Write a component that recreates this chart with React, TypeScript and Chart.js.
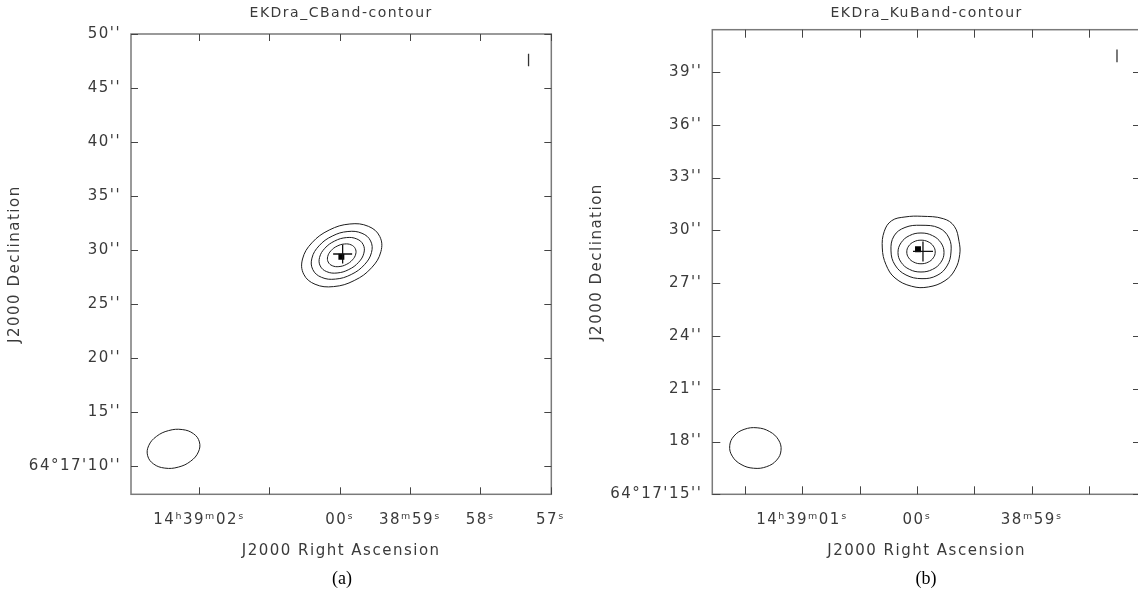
import React, { useEffect, useRef } from "react";
import { Chart, registerables } from "chart.js";

Chart.register(...registerables);

// ---------- data: panel (a) C band ----------
// x values: RA seconds relative to 14h39m00s ; y values: Dec arcsec relative to 64°17'00''
const A_TITLE = "EKDra_CBand-contour";
const A_X_TICKS = [2, 1, 0, -1, -2, -3];
const A_X_LABELS = ["14ʰ39ᵐ02ˢ", "", "00ˢ", "38ᵐ59ˢ", "58ˢ", "57ˢ"];
const A_Y_TICKS = [10, 15, 20, 25, 30, 35, 40, 45, 50];
const A_Y_LABELS = ["64°17'10''", "15''", "20''", "25''", "30''", "35''", "40''", "45''", "50''"];
const A_X_RANGE = [-3.01, 2.97];
const A_Y_RANGE = [7.38, 50.0];
const A_SOURCE = [-0.028, 29.51];
// contour vertices, arcsec offsets (east, north) from the source position
const A_CONTOUR_1 = [[3.52, -1.747], [3.628, -0.344], [2.765, 1.151], [1.16, 2.338], [-0.755, 2.899], [-2.468, 2.682], [-3.52, 1.747], [-3.628, 0.344], [-2.765, -1.151], [-1.16, -2.338], [0.755, -2.899], [2.468, -2.682]];
const A_CONTOUR_2 = [[2.675, -1.328], [2.757, -0.261], [2.101, 0.875], [0.882, 1.777], [-0.574, 2.203], [-1.876, 2.038], [-2.675, 1.328], [-2.757, 0.261], [-2.101, -0.875], [-0.882, -1.777], [0.574, -2.203], [1.876, -2.038]];
const A_CONTOUR_3 = [[1.989, -0.987], [2.05, -0.194], [1.562, 0.65], [0.655, 1.321], [-0.427, 1.638], [-1.394, 1.515], [-1.989, 0.987], [-2.05, 0.194], [-1.562, -0.65], [-0.655, -1.321], [0.427, -1.638], [1.394, -1.515]];
const A_CONTOUR_4 = [[1.254, -0.622], [1.297, -0.113], [0.992, 0.426], [0.422, 0.851], [-0.262, 1.048], [-0.875, 0.965], [-1.254, 0.622], [-1.297, 0.113], [-0.992, -0.426], [-0.422, -0.851], [0.262, -1.048], [0.875, -0.965]];
const A_BEAM_CENTER = [2.365, 11.59];
const A_BEAM = [[2.395, -0.642], [2.301, 0.289], [1.59, 1.143], [0.453, 1.69], [-0.806, 1.785], [-1.847, 1.401], [-2.395, 0.642], [-2.301, -0.289], [-1.59, -1.143], [-0.453, -1.69], [0.806, -1.785], [1.847, -1.401]];
const A_CROSS = [-0.041, 29.63];
const A_PEAK = [-0.023, 29.37];
const A_MARK = [[-2.686, 47.01], [-2.686, 48.16]];

// ---------- data: panel (b) Ku band ----------
const B_TITLE = "EKDra_KuBand-contour";
const B_X_TICKS = [1.5, 1, 0.5, 0, -0.5, -1, -1.5];
const B_X_LABELS = ["", "14ʰ39ᵐ01ˢ", "", "00ˢ", "", "38ᵐ59ˢ", ""];
const B_Y_TICKS = [15, 18, 21, 24, 27, 30, 33, 36, 39];
const B_Y_LABELS = ["64°17'15''", "18''", "21''", "24''", "27''", "30''", "33''", "36''", "39''"];
const B_X_RANGE = [-1.95, 1.782];
const B_Y_RANGE = [15.0, 41.4];
const B_SOURCE = [-0.0348, 28.77];
const B_CONTOUR_1 = [[-0.04, 2.028], [-1.263, 1.892], [-1.887, 1.46], [-2.153, 0.608], [-2.193, -0.153], [-1.926, -1.006], [-1.36, -1.631], [-0.414, -1.989], [0.527, -1.949], [1.473, -1.477], [1.983, -0.722], [2.193, 0.227], [2.079, 1.176], [1.66, 1.778], [0.907, 1.989]];
const B_CONTOUR_2 = [[0, 1.517], [-1.02, 1.364], [-1.586, 0.795], [-1.7, 0], [-1.473, -0.795], [-0.907, -1.335], [-0.057, -1.517], [0.85, -1.307], [1.473, -0.739], [1.7, 0.057], [1.53, 0.909], [0.907, 1.392]];
const B_CONTOUR_3 = [[1.303, -0.03], [1.128, 0.524], [0.652, 0.93], [0, 1.078], [-0.652, 0.93], [-1.128, 0.524], [-1.303, -0.03], [-1.128, -0.584], [-0.652, -0.99], [0, -1.138], [0.652, -0.99], [1.128, -0.584]];
const B_CONTOUR_4 = [[0.805, 0], [0.697, 0.335], [0.403, 0.58], [0, 0.67], [-0.403, 0.58], [-0.697, 0.335], [-0.805, 0], [-0.697, -0.335], [-0.403, -0.58], [0, -0.67], [0.403, -0.58], [0.697, -0.335]];
const B_BEAM_CENTER = [1.407, 17.63];
const B_BEAM = [[1.454, 0.127], [1.209, 0.684], [0.64, 1.059], [-0.101, 1.149], [-0.814, 0.931], [-1.309, 0.464], [-1.454, -0.127], [-1.209, -0.684], [-0.64, -1.059], [0.101, -1.149], [0.814, -0.931], [1.309, -0.464]];
const B_CROSS = [-0.052, 28.8];
const B_PEAK = [-0.0087, 28.92];
const B_MARK = [[-1.741, 39.55], [-1.741, 40.28]];

const X_TITLE = "J2000 Right Ascension";
const Y_TITLE = "J2000 Declination";

// arcsec of sky per second of RA at this declination (unit conversion)
const ARCSEC_PER_SEC = 15 * Math.cos(((64 + 17.5 / 60) * Math.PI) / 180);

// ---------- styles ----------
const FONT = '"DejaVu Sans", sans-serif';
const TEXT = "#3a3a3a";
const LINE = "#1c1c1c";
const FRAME = "#7a7a7a";
const TICK = "#444444";
const CANVAS_W = 580;
const CANVAS_H = 598;

type Pt = number[];
type Panel = {
  title: string;
  xTicks: number[];
  xLabels: string[];
  yTicks: number[];
  yLabels: string[];
  xRange: number[];
  yRange: number[];
  source: Pt;
  contours: Pt[][];
  beamCenter: Pt;
  beam: Pt[];
  cross: Pt;
  peak: Pt;
  mark: Pt[];
  crossR: number;
  box: { left: number; right: number; bottom: number; titleTop: number; titleBottom: number; yTitlePad: number; tickLen: number };
};

const PANEL_A: Panel = {
  title: A_TITLE, xTicks: A_X_TICKS, xLabels: A_X_LABELS, yTicks: A_Y_TICKS, yLabels: A_Y_LABELS,
  xRange: A_X_RANGE, yRange: A_Y_RANGE, source: A_SOURCE,
  contours: [A_CONTOUR_1, A_CONTOUR_2, A_CONTOUR_3, A_CONTOUR_4],
  beamCenter: A_BEAM_CENTER, beam: A_BEAM, cross: A_CROSS, peak: A_PEAK, mark: A_MARK, crossR: 9.5,
  box: { left: 131, right: 553.3, bottom: 494.3, titleTop: 4.5, titleBottom: 12.7, yTitlePad: 6, tickLen: 7 },
};
const PANEL_B: Panel = {
  title: B_TITLE, xTicks: B_X_TICKS, xLabels: B_X_LABELS, yTicks: B_Y_TICKS, yLabels: B_Y_LABELS,
  xRange: B_X_RANGE, yRange: B_Y_RANGE, source: B_SOURCE,
  contours: [B_CONTOUR_1, B_CONTOUR_2, B_CONTOUR_3, B_CONTOUR_4],
  beamCenter: B_BEAM_CENTER, beam: B_BEAM, cross: B_CROSS, peak: B_PEAK, mark: B_MARK, crossR: 10,
  box: { left: 132.3, right: 561, bottom: 494.3, titleTop: 5, titleBottom: 7.9, yTitlePad: 8, tickLen: 8 },
};

function loopDataset(center: Pt, pts: Pt[]) {
  const xy = pts.map(([dx, dy]) => ({ x: center[0] + dx / ARCSEC_PER_SEC, y: center[1] + dy }));
  const n = xy.length;
  // wrap so the spline is smooth all round; the two outer segments are hidden
  const data = [xy[n - 1], ...xy, xy[0], xy[1]];
  const last = data.length - 1;
  return {
    data,
    showLine: true,
    tension: 0.4,
    pointRadius: 0,
    borderColor: LINE,
    borderWidth: 1,
    fill: false,
    segment: {
      borderColor: (c: any) => (c.p0DataIndex === 0 || c.p1DataIndex === last ? "rgba(0,0,0,0)" : undefined),
    },
  };
}

const frameTicks = {
  id: "frameTicks",
  afterDatasetsDraw(chart: any, _args: any, opts: any) {
    const { ctx, chartArea } = chart;
    const { left, right, top, bottom } = chartArea;
    const len = opts.len || 7;
    const sx = chart.scales.x;
    const sy = chart.scales.y;
    ctx.save();
    ctx.strokeStyle = FRAME;
    ctx.lineWidth = 1.5;
    ctx.strokeRect(left, top, right - left, bottom - top);
    ctx.strokeStyle = TICK;
    ctx.lineWidth = 1;
    ctx.beginPath();
    sx.ticks.forEach((t: any) => {
      const px = Math.round(sx.getPixelForValue(t.value)) + 0.5;
      ctx.moveTo(px, bottom);
      ctx.lineTo(px, bottom - len);
      ctx.moveTo(px, top);
      ctx.lineTo(px, top + len);
    });
    sy.ticks.forEach((t: any) => {
      const py = Math.round(sy.getPixelForValue(t.value)) + 0.5;
      ctx.moveTo(left, py);
      ctx.lineTo(left + len, py);
      ctx.moveTo(right, py);
      ctx.lineTo(right - len, py);
    });
    ctx.stroke();
    ctx.restore();
  },
};

const spacing = {
  id: "spacing",
  beforeDraw(chart: any) {
    (chart.ctx as any).letterSpacing = "1.5px";
  },
};

function makeChart(canvas: HTMLCanvasElement, p: Panel) {
  const datasets: any[] = [];
  p.contours.forEach((c) => datasets.push(loopDataset(p.source, c)));
  datasets.push(loopDataset(p.beamCenter, p.beam));
  datasets.push({
    data: [{ x: p.cross[0], y: p.cross[1] }],
    pointStyle: "cross",
    pointRadius: p.crossR,
    borderColor: "#111",
    borderWidth: 1.3,
  });
  datasets.push({
    data: [{ x: p.peak[0], y: p.peak[1] }],
    pointStyle: "rect",
    pointRadius: 4.2,
    backgroundColor: "#000",
    borderWidth: 0,
  });
  datasets.push({
    data: p.mark.map(([x, y]) => ({ x, y })),
    showLine: true,
    pointRadius: 0,
    borderColor: "#333",
    borderWidth: 1.3,
  });

  const tickFont = { family: FONT, size: 15 };
  return new Chart(canvas, {
    type: "scatter",
    data: { datasets },
    plugins: [spacing, frameTicks],
    options: {
      responsive: false,
      maintainAspectRatio: false,
      animation: false,
      events: [],
      layout: { padding: { left: 0, top: 0, bottom: 0, right: CANVAS_W - p.box.right } },
      plugins: {
        legend: { display: false },
        tooltip: { enabled: false },
        title: {
          display: true,
          fullSize: false,
          text: p.title,
          color: TEXT,
          font: { family: FONT, size: 14, weight: "normal", lineHeight: 1.2 },
          padding: { top: p.box.titleTop, bottom: p.box.titleBottom },
        },
        frameTicks: { len: p.box.tickLen },
      } as any,
      scales: {
        x: {
          type: "linear",
          reverse: true,
          min: p.xRange[0],
          max: p.xRange[1],
          afterBuildTicks: (s: any) => {
            s.ticks = p.xTicks.map((v) => ({ value: v }));
          },
          afterFit: (s: any) => {
            s.height = CANVAS_H - p.box.bottom;
          },
          grid: { display: false, drawTicks: false },
          border: { display: false },
          ticks: {
            autoSkip: false,
            maxRotation: 0,
            minRotation: 0,
            padding: 17,
            color: TEXT,
            font: tickFont,
            callback: (v: any) => p.xLabels[p.xTicks.indexOf(Number(v))] ?? "",
          },
          title: {
            display: true,
            text: X_TITLE,
            color: TEXT,
            font: { family: FONT, size: 15, lineHeight: 1.2 },
            padding: { top: 0, bottom: 38 },
          },
        },
        y: {
          type: "linear",
          min: p.yRange[0],
          max: p.yRange[1],
          afterBuildTicks: (s: any) => {
            s.ticks = p.yTicks.map((v) => ({ value: v }));
          },
          afterFit: (s: any) => {
            s.width = p.box.left;
          },
          grid: { display: false, drawTicks: false },
          border: { display: false },
          ticks: {
            autoSkip: false,
            padding: 10,
            color: TEXT,
            font: tickFont,
            callback: (v: any) => p.yLabels[p.yTicks.indexOf(Number(v))] ?? "",
          },
          title: {
            display: true,
            text: Y_TITLE,
            color: TEXT,
            font: { family: FONT, size: 15, lineHeight: 1.2 },
            padding: { top: p.box.yTitlePad, bottom: 0 },
          },
        },
      },
    } as any,
  });
}

export default function App() {
  const refA = useRef<HTMLCanvasElement>(null);
  const refB = useRef<HTMLCanvasElement>(null);

  useEffect(() => {
    const a = makeChart(refA.current as HTMLCanvasElement, PANEL_A);
    const b = makeChart(refB.current as HTMLCanvasElement, PANEL_B);
    return () => {
      a.destroy();
      b.destroy();
    };
  }, []);

  const capStyle: React.CSSProperties = {
    position: "absolute",
    top: 567,
    width: 100,
    height: 22,
    lineHeight: "22px",
    textAlign: "center",
    fontFamily: '"Liberation Serif", "Times New Roman", serif',
    fontSize: 18,
    color: "#000",
  };

  return (
    <div
      style={{
        position: "absolute",
        left: 0,
        top: 0,
        width: 1138,
        height: 598,
        overflow: "hidden",
        background: "#fff",
      }}
    >
      <canvas
        ref={refA}
        width={CANVAS_W}
        height={CANVAS_H}
        style={{ position: "absolute", left: 0, top: 0, width: CANVAS_W, height: CANVAS_H }}
      />
      <canvas
        ref={refB}
        width={CANVAS_W}
        height={CANVAS_H}
        style={{ position: "absolute", left: 580, top: 0, width: CANVAS_W, height: CANVAS_H }}
      />
      <div style={{ ...capStyle, left: 292 }}>(a)</div>
      <div style={{ ...capStyle, left: 876 }}>(b)</div>
    </div>
  );
}
